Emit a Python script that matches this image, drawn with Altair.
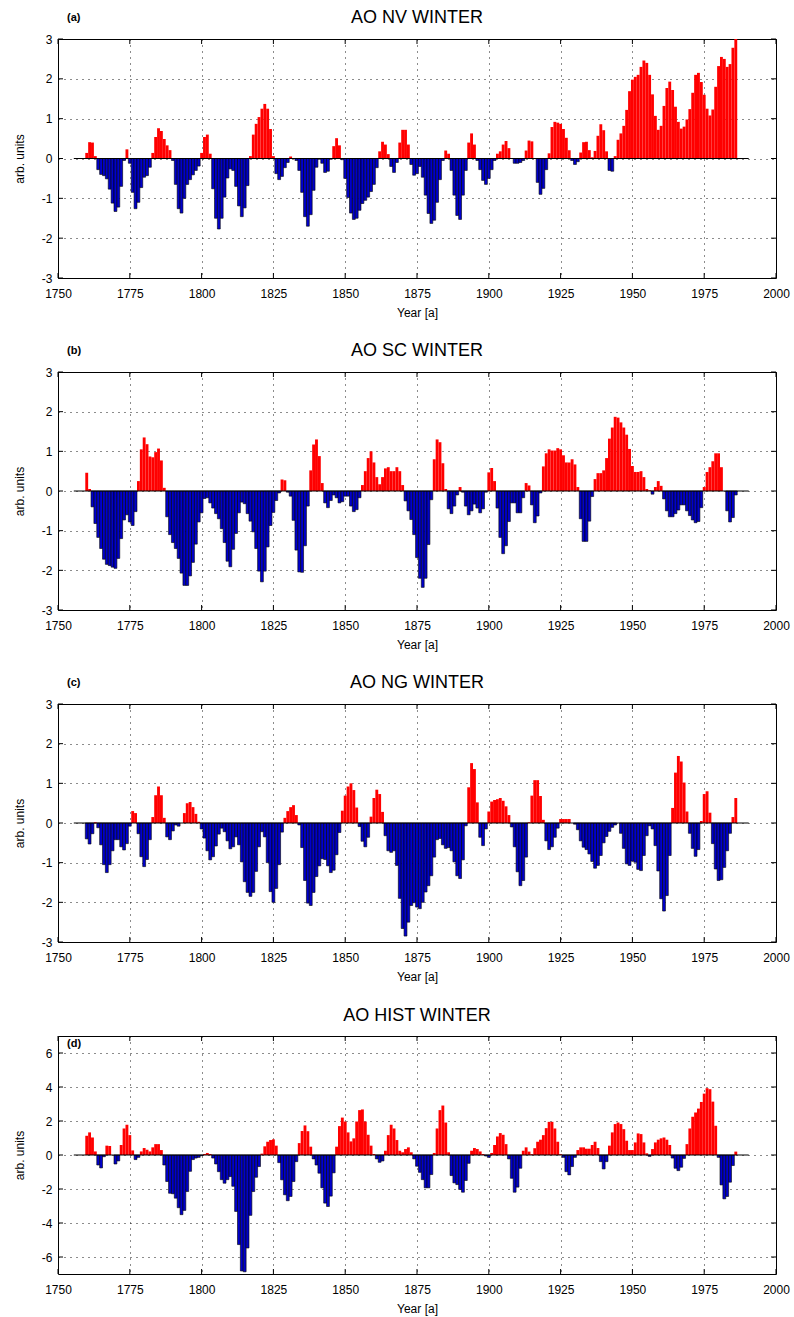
import altair as alt
import pandas as pd

START_YEAR = 1756  # first year of every series (1756 ... 1990)

# ---- AO NV WINTER (a) ----
ao_nv = [
    0, 0, 0, 0,
    0.14, 0.41, 0.40, 0.06, -0.28, -0.40, -0.43, -0.51, -0.77, -1.12,
    -1.33, -1.22, -0.70, -0.05, 0.23, -0.12, -0.85, -1.26, -1.10, -0.73,
    -0.47, -0.43, -0.22, 0.14, 0.54, 0.76, 0.69, 0.49, 0.33, 0.21,
    -0.05, -0.65, -1.26, -1.37, -1.00, -0.65, -0.53, -0.41, -0.30, -0.19,
    0.14, 0.54, 0.60, 0.12, -0.76, -1.50, -1.77, -1.50, -0.97, -0.49,
    -0.26, -0.30, -0.70, -1.19, -1.46, -1.24, -0.68, 0.06, 0.60, 0.87,
    1.04, 1.25, 1.37, 1.25, 0.74, 0.06, -0.38, -0.53, -0.45, -0.23,
    -0.10, 0.05, 0.00, -0.05, -0.30, -0.85, -1.46, -1.70, -1.41, -0.80,
    -0.22, -0.02, -0.12, -0.35, -0.32, -0.02, 0.31, 0.51, 0.33, -0.03,
    -0.50, -0.98, -1.37, -1.53, -1.50, -1.30, -1.13, -1.05, -0.97, -0.83,
    -0.65, -0.23, 0.18, 0.42, 0.35, 0.11, -0.20, -0.35, -0.10, 0.40,
    0.72, 0.72, 0.35, -0.15, -0.42, -0.38, -0.20, -0.47, -0.92, -1.38,
    -1.63, -1.55, -1.10, -0.53, -0.05, 0.20, 0.12, -0.30, -0.92, -1.43,
    -1.53, -0.92, -0.30, 0.40, 0.63, 0.35, -0.05, -0.28, -0.55, -0.65,
    -0.50, -0.28, -0.05, 0.12, 0.18, 0.35, 0.44, 0.26, 0.00, -0.12,
    -0.12, -0.10, -0.05, 0.20, 0.45, 0.43, 0.00, -0.60, -0.90, -0.75,
    -0.28, 0.13, 0.79, 0.92, 0.90, 0.87, 0.74, 0.52, 0.21, -0.05,
    -0.15, -0.08, 0.15, 0.41, 0.42, 0.21, 0.03, 0.19, 0.57, 0.86,
    0.71, 0.18, -0.30, -0.32, 0.06, 0.47, 0.63, 0.82, 1.22, 1.69,
    1.98, 2.05, 2.10, 2.30, 2.46, 2.40, 2.10, 1.61, 1.07, 0.72,
    0.82, 1.32, 1.77, 1.93, 1.72, 1.30, 0.92, 0.75, 0.80, 0.98,
    1.24, 1.65, 2.10, 2.15, 1.92, 1.60, 1.25, 1.08, 1.23, 1.80,
    2.32, 2.55, 2.50, 2.30, 2.37, 2.78, 3.00, 0, 0, 0,
    0,
]

# ---- AO SC WINTER (b) ----
ao_sc = [
    0, 0, 0, 0,
    0.46, 0.05, -0.40, -0.82, -1.17, -1.45, -1.72, -1.85, -1.88, -1.92,
    -1.95, -1.70, -1.20, -0.73, -0.60, -0.78, -0.87, -0.52, 0.25, 1.05,
    1.35, 1.18, 0.87, 0.85, 0.98, 1.07, 0.77, 0.08, -0.65, -1.10,
    -1.30, -1.45, -1.70, -2.07, -2.38, -2.38, -2.14, -1.80, -1.34, -0.78,
    -0.55, -0.19, -0.17, -0.30, -0.43, -0.57, -0.70, -0.95, -1.30, -1.77,
    -1.91, -1.47, -1.07, -0.55, -0.28, -0.32, -0.57, -0.76, -1.03, -1.45,
    -2.02, -2.29, -2.02, -1.41, -0.87, -0.54, -0.24, -0.05, 0.29, 0.27,
    -0.03, -0.13, -0.74, -1.49, -2.04, -2.05, -1.38, -0.38, 0.52, 1.17,
    1.30, 0.88, 0.20, -0.30, -0.42, -0.24, -0.10, -0.17, -0.30, -0.27,
    -0.13, -0.13, -0.38, -0.52, -0.47, -0.17, 0.15, 0.50, 0.83, 1.00,
    0.72, 0.35, 0.17, 0.35, 0.57, 0.60, 0.50, 0.50, 0.60, 0.50,
    0.15, -0.25, -0.50, -0.72, -1.10, -1.68, -2.20, -2.43, -2.20, -1.35,
    -0.22, 0.80, 1.30, 1.23, 0.70, 0.05, -0.45, -0.57, -0.38, -0.10,
    0.10, -0.03, -0.38, -0.60, -0.50, -0.33, -0.43, -0.55, -0.45, -0.03,
    0.47, 0.58, 0.25, -0.43, -1.17, -1.58, -1.38, -0.77, -0.30, -0.30,
    -0.55, -0.55, -0.17, 0.20, 0.14, -0.35, -0.80, -0.63, -0.05, 0.62,
    0.95, 1.05, 1.02, 1.02, 1.08, 1.05, 0.90, 0.72, 0.72, 0.80,
    0.67, 0.10, -0.70, -1.27, -1.27, -0.76, -0.14, 0.30, 0.45, 0.45,
    0.52, 0.83, 1.32, 1.60, 1.87, 1.85, 1.73, 1.60, 1.42, 1.06,
    0.63, 0.48, 0.48, 0.50, 0.35, 0.05, 0.02, -0.08, 0.10, 0.25,
    0.13, -0.20, -0.50, -0.65, -0.65, -0.57, -0.48, -0.35, -0.35, -0.50,
    -0.62, -0.73, -0.80, -0.77, -0.42, 0.10, 0.48, 0.60, 0.75, 0.95,
    0.95, 0.60, 0.00, -0.50, -0.78, -0.67, -0.10, 0, 0, 0,
    0,
]

# ---- AO NG WINTER (c) ----
ao_ng = [
    0, 0, 0, 0,
    -0.40, -0.53, -0.27, 0.02, -0.12, -0.55, -1.05, -1.25, -1.05, -0.70,
    -0.42, -0.42, -0.60, -0.68, -0.52, -0.08, 0.30, 0.25, -0.27, -0.85,
    -1.10, -0.92, -0.42, 0.15, 0.70, 0.92, 0.70, 0.13, -0.35, -0.42,
    -0.20, -0.05, -0.08, 0.00, 0.25, 0.50, 0.53, 0.40, 0.23, 0.03,
    -0.15, -0.38, -0.70, -0.93, -0.85, -0.58, -0.28, -0.13, -0.22, -0.45,
    -0.65, -0.60, -0.35, -0.55, -0.98, -1.48, -1.75, -1.85, -1.75, -1.22,
    -0.60, -0.22, -0.35, -1.00, -1.73, -2.00, -1.65, -1.05, -0.23, 0.13,
    0.30, 0.40, 0.45, 0.20, -0.05, -0.62, -1.45, -2.02, -2.08, -1.75,
    -1.35, -1.08, -0.90, -0.92, -1.08, -1.25, -1.19, -0.80, -0.24, 0.31,
    0.69, 0.92, 1.00, 0.83, 0.39, -0.09, -0.46, -0.60, -0.36, 0.16,
    0.63, 0.84, 0.73, 0.28, -0.32, -0.70, -0.74, -0.70, -1.07, -1.90,
    -2.66, -2.85, -2.50, -2.08, -2.01, -2.12, -2.16, -2.00, -1.74, -1.58,
    -1.33, -0.86, -0.42, -0.39, -0.55, -0.64, -0.62, -0.70, -0.98, -1.33,
    -1.40, -0.93, -0.07, 0.90, 1.51, 1.36, 0.52, -0.36, -0.57, -0.15,
    0.29, 0.54, 0.58, 0.60, 0.63, 0.56, 0.42, 0.20, -0.10, -0.60,
    -1.23, -1.58, -1.45, -0.86, 0.02, 0.69, 1.08, 1.08, 0.68, 0.08,
    -0.45, -0.67, -0.60, -0.36, -0.13, 0.10, 0.10, 0.10, 0.10, 0.00,
    -0.03, -0.17, -0.45, -0.61, -0.67, -0.78, -0.97, -1.14, -1.07, -0.82,
    -0.50, -0.34, -0.21, -0.11, -0.05, 0.00, -0.26, -0.64, -1.03, -1.07,
    -0.96, -0.99, -1.17, -1.20, -0.82, -0.32, -0.07, -0.15, -0.57, -1.21,
    -1.91, -2.22, -1.83, -0.82, 0.38, 1.27, 1.69, 1.55, 1.02, 0.29,
    -0.26, -0.64, -0.84, -0.67, 0.05, 0.73, 0.80, 0.26, -0.52, -1.16,
    -1.45, -1.43, -1.12, -0.70, -0.26, 0.15, 0.63, 0, 0, 0,
    0,
]

# ---- AO HIST WINTER (d) ----
ao_hist = [
    0, 0, 0, 0,
    1.13, 1.33, 1.03, 0.21, -0.59, -0.76, -0.10, 0.55, 0.53, 0.00,
    -0.53, -0.35, 0.59, 1.56, 1.78, 1.17, 0.27, -0.27, -0.14, 0.21,
    0.41, 0.31, 0.21, 0.45, 0.64, 0.64, 0.29, -0.59, -1.56, -2.25,
    -2.28, -2.54, -3.10, -3.51, -3.26, -2.15, -0.96, -0.27, -0.18, -0.14,
    -0.04, 0.06, 0.12, 0.06, -0.18, -0.53, -0.98, -1.45, -1.66, -1.45,
    -1.27, -1.84, -3.32, -5.27, -6.82, -6.87, -5.47, -3.55, -2.15, -1.31,
    -0.68, 0.08, 0.51, 0.78, 0.88, 0.92, 0.55, -0.45, -1.46, -2.34,
    -2.69, -2.44, -1.56, -0.39, 0.70, 1.41, 1.74, 1.40, 0.49, -0.23,
    -0.59, -1.07, -1.93, -2.83, -3.03, -2.42, -1.05, 0.49, 1.70, 2.20,
    1.97, 1.33, 0.80, 0.98, 1.97, 2.64, 2.68, 1.97, 1.19, 0.55,
    0.06, -0.23, -0.43, -0.35, 0.25, 1.17, 1.78, 1.56, 0.88, 0.25,
    0.16, 0.35, 0.45, 0.16, -0.23, -0.66, -1.02, -1.45, -1.93, -1.93,
    -1.15, 0.12, 1.56, 2.64, 2.91, 1.91, 0.16, -1.21, -1.64, -1.74,
    -2.03, -2.19, -1.50, -0.49, 0.25, 0.41, 0.35, 0.21, 0.06, -0.06,
    -0.14, 0.12, 0.59, 1.09, 1.29, 1.19, 0.64, -0.23, -1.37, -2.19,
    -1.89, -0.78, 0.25, 0.45, 0.20, 0.05, 0.40, 0.78, 0.90, 1.17,
    1.58, 1.95, 1.95, 1.56, 0.78, 0.05, -0.14, -0.98, -1.17, -0.68,
    -0.14, 0.29, 0.45, 0.45, 0.37, 0.37, 0.59, 0.78, 0.41, -0.39,
    -0.82, -0.39, 0.55, 1.33, 1.82, 1.91, 1.82, 1.52, 0.84, 0.29,
    0.29, 0.74, 1.27, 1.23, 0.74, 0.10, -0.08, 0.35, 0.74, 0.90,
    0.98, 1.03, 0.90, 0.59, -0.18, -0.78, -0.92, -0.72, -0.20, 0.64,
    1.56, 2.25, 2.50, 2.73, 3.12, 3.61, 3.93, 3.87, 3.14, 1.72,
    -0.14, -1.76, -2.58, -2.44, -1.60, -0.62, 0.20, 0, 0, 0,
    0,
]

panel_titles = ["AO NV WINTER", "AO SC WINTER", "AO NG WINTER", "AO HIST WINTER"]
panel_letters = ["(a)", "(b)", "(c)", "(d)"]
x_ticks = [1750, 1775, 1800, 1825, 1850, 1875, 1900, 1925, 1950, 1975, 2000]
x_domain = [1750, 2000]
y_ticks_small = [-3, -2, -1, 0, 1, 2, 3]
y_ticks_hist = [-6, -4, -2, 0, 2, 4, 6]
y_domain_small = [-3, 3]
y_domain_hist = [-7, 7]

FONT = "Liberation Sans"
W = 718
HEIGHTS = [239, 238, 238, 238]
TITLE_DY = [-21, -21, -21, -20]
LETTER_DY = [-21, -21, -21, 8]
RED = "#ff0000"
BLUE = "#0000cc"


def make_panel(values, title, letter, ydom, yticks, h, title_dy, letter_dy):
    years = list(range(START_YEAR, START_YEAR + len(values)))
    df = pd.DataFrame({"year": years, "value": values})
    xs = alt.Scale(domain=x_domain, nice=False, zero=False)
    ys = alt.Scale(domain=ydom, nice=False, zero=False)
    grid = dict(grid=True, gridDash=[1, 5], gridColor="black", gridOpacity=0.9, gridWidth=1)
    x_axis = alt.Axis(values=x_ticks, labelExpr="'' + datum.value", title="Year [a]",
                      ticks=False, tickSize=0, domain=False, labelFlush=False,
                      labelOverlap=False, labelFont=FONT, labelFontSize=12,
                      labelColor="black", labelPadding=10, titleFont=FONT,
                      titleFontSize=12, titleFontWeight="normal", titleColor="black",
                      titleY=34, titleBaseline="middle", **grid)
    y_axis = alt.Axis(values=yticks, labelExpr="'' + datum.value", title="arb. units",
                      ticks=False, tickSize=0, domain=False, labelFlush=False,
                      labelOverlap=False, labelFont=FONT, labelFontSize=12,
                      labelColor="black", labelPadding=6, titleFont=FONT,
                      titleFontSize=12, titleFontWeight="normal", titleColor="black",
                      titleX=-39, titleY=h / 2, titleAngle=270, titleBaseline="middle",
                      titleAlign="center", **grid)

    base = alt.Chart(df).transform_filter("datum.value != 0").transform_calculate(
        x0="datum.year - 0.5", x1="datum.year + 0.5", zero="0")
    enc = dict(
        x=alt.X("x0:Q", scale=xs, axis=x_axis),
        x2="x1:Q",
        y=alt.Y("value:Q", scale=ys, axis=y_axis),
        y2="zero:Q",
    )
    pos = base.transform_filter("datum.value > 0").mark_bar(
        color=RED, clip=True, strokeWidth=0).encode(**enc)
    neg = base.transform_filter("datum.value < 0").mark_bar(
        fill=BLUE, stroke="black", strokeWidth=0.6, clip=True).encode(**enc)

    base_df = pd.DataFrame({"x0": [years[0] - 0.5], "x1": [years[-1] + 0.5], "y": [0]})
    baseline = alt.Chart(base_df).mark_rule(color="black", strokeWidth=1.2).encode(
        x=alt.X("x0:Q", scale=xs, axis=x_axis), x2="x1:Q",
        y=alt.Y("y:Q", scale=ys, axis=y_axis))

    xt = pd.DataFrame({"t": x_ticks})
    yt = pd.DataFrame({"t": yticks})
    xt_top = alt.Chart(xt).mark_rule(color="black", strokeWidth=1).encode(
        x=alt.X("t:Q", scale=xs, axis=x_axis), y=alt.value(0), y2=alt.value(5))
    xt_bot = alt.Chart(xt).mark_rule(color="black", strokeWidth=1).encode(
        x=alt.X("t:Q", scale=xs, axis=x_axis), y=alt.value(h), y2=alt.value(h - 5))
    yt_left = alt.Chart(yt).mark_rule(color="black", strokeWidth=1).encode(
        y=alt.Y("t:Q", scale=ys, axis=y_axis), x=alt.value(0), x2=alt.value(5))
    yt_right = alt.Chart(yt).mark_rule(color="black", strokeWidth=1).encode(
        y=alt.Y("t:Q", scale=ys, axis=y_axis), x=alt.value(W), x2=alt.value(W - 5))

    ttl = alt.Chart(pd.DataFrame({"t": [title]})).mark_text(
        font=FONT, fontSize=18, color="black", align="center", baseline="middle").encode(
        text="t:N", x=alt.value(W / 2), y=alt.value(title_dy))
    let = alt.Chart(pd.DataFrame({"t": [letter]})).mark_text(
        font=FONT, fontSize=11, fontWeight="bold", color="black", align="left",
        baseline="middle").encode(
        text="t:N", x=alt.value(9), y=alt.value(letter_dy))

    return alt.layer(pos, neg, baseline, xt_top, xt_bot, yt_left, yt_right, ttl, let).properties(
        width=W, height=h)


series = [ao_nv, ao_sc, ao_ng, ao_hist]
panels = []
for i, vals in enumerate(series):
    hist = i == 3
    panels.append(make_panel(
        vals, panel_titles[i], panel_letters[i],
        y_domain_hist if hist else y_domain_small,
        y_ticks_hist if hist else y_ticks_small,
        HEIGHTS[i], TITLE_DY[i], LETTER_DY[i]))

chart = alt.vconcat(*panels, spacing=94, bounds="flush").configure_view(
    stroke="black", strokeWidth=1).properties(
    padding={"left": 12, "top": 8, "right": 4, "bottom": 4}, background="white")

chart.save("out.html", embed_options={"renderer": "svg", "actions": False})
